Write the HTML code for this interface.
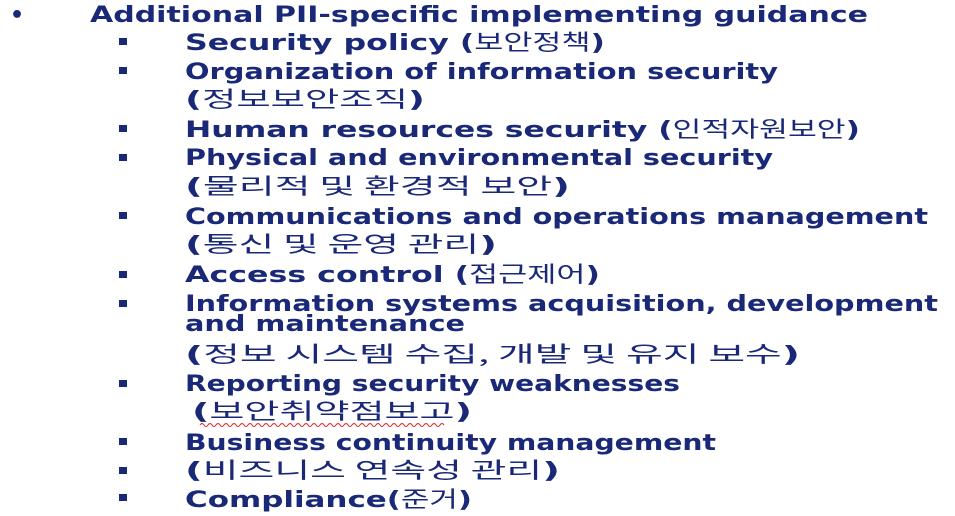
<!DOCTYPE html>
<html><head><meta charset="utf-8"><style>
html,body{margin:0;padding:0;background:#fff;width:955px;height:516px;overflow:hidden}
svg text{font-family:"DejaVu Sans","Liberation Sans","Noto Sans CJK KR",sans-serif;font-weight:bold;fill:#1a2878;font-size:22px}
svg tspan.k{font-weight:normal;font-family:"Noto Sans CJK KR",sans-serif}
</style></head><body>
<svg width="955" height="516">
<text x="10" y="22">•</text>
<text x="90" y="22" textLength="778" lengthAdjust="spacingAndGlyphs">Additional PII-specific implementing guidance</text>
<g fill="#1a2878">
<rect x="119" y="38" width="8" height="7"/><rect x="119" y="67" width="8" height="7"/>
<rect x="119" y="125" width="8" height="7"/><rect x="119" y="154" width="8" height="7"/>
<rect x="119" y="212" width="8" height="7"/><rect x="119" y="271" width="8" height="7"/>
<rect x="119" y="300" width="8" height="7"/><rect x="119" y="380" width="8" height="7"/>
<rect x="119" y="438" width="8" height="7"/><rect x="119" y="467" width="8" height="7"/>
<rect x="119" y="494" width="8" height="7"/>
</g>
<text x="185" y="50" textLength="420" lengthAdjust="spacingAndGlyphs">Security policy (<tspan class="k">보안정책</tspan>)</text>
<text x="185" y="79" textLength="593" lengthAdjust="spacingAndGlyphs">Organization of information security</text>
<text x="185" y="107" textLength="240" lengthAdjust="spacingAndGlyphs">(<tspan class="k">정보보안조직</tspan>)</text>
<text x="185" y="137" textLength="675" lengthAdjust="spacingAndGlyphs">Human resources security (<tspan class="k">인적자원보안</tspan>)</text>
<text x="185" y="165" textLength="588" lengthAdjust="spacingAndGlyphs">Physical and environmental security</text>
<text x="185" y="194" textLength="385" lengthAdjust="spacingAndGlyphs">(<tspan class="k">물리적 및 환경적 보안</tspan>)</text>
<text x="185" y="224" textLength="743" lengthAdjust="spacingAndGlyphs">Communications and operations management</text>
<text x="185" y="252" textLength="312" lengthAdjust="spacingAndGlyphs">(<tspan class="k">통신 및 운영 관리</tspan>)</text>
<text x="185" y="282" textLength="415" lengthAdjust="spacingAndGlyphs">Access control (<tspan class="k">접근제어</tspan>)</text>
<text x="185" y="311" textLength="753" lengthAdjust="spacingAndGlyphs">Information systems acquisition, development</text>
<text x="185" y="331" textLength="280" lengthAdjust="spacingAndGlyphs">and maintenance</text>
<text x="185" y="362" textLength="615" lengthAdjust="spacingAndGlyphs">(<tspan class="k">정보 시스템 수집, 개발 및 유지 보수</tspan>)</text>
<text x="185" y="391" textLength="495" lengthAdjust="spacingAndGlyphs">Reporting security weaknesses</text>
<text x="192" y="419" textLength="280" lengthAdjust="spacingAndGlyphs">(<tspan class="k">보안취약점보고</tspan>)</text>
<path d="M200 425 q2 -3 4 0 t4 0 t4 0 t4 0 t4 0 t4 0 t4 0 t4 0 t4 0 t4 0 t4 0 t4 0 t4 0 t4 0 t4 0 t4 0 t4 0 t4 0 t4 0 t4 0 t4 0 t4 0 t4 0 t4 0 t4 0 t4 0 t4 0 t4 0 t4 0 t4 0 t4 0 t4 0 t4 0 t4 0 t4 0 t4 0 t4 0 t4 0 t4 0 t4 0 t4 0 t4 0 t4 0 t4 0 t4 0 t4 0 t4 0 t4 0 t4 0 t4 0 t4 0 t4 0 t4 0 t4 0 t4 0 t4 0 t4 0 t4 0 t4 0 t4 0 t4 0" fill="none" stroke="#e02020" stroke-width="1"/>
<text x="185" y="450" textLength="531" lengthAdjust="spacingAndGlyphs">Business continuity management</text>
<text x="185" y="478" textLength="375" lengthAdjust="spacingAndGlyphs">(<tspan class="k">비즈니스 연속성 관리</tspan>)</text>
<text x="185" y="507" textLength="287" lengthAdjust="spacingAndGlyphs">Compliance(<tspan class="k">준거</tspan>)</text>
</svg>
</body></html>
